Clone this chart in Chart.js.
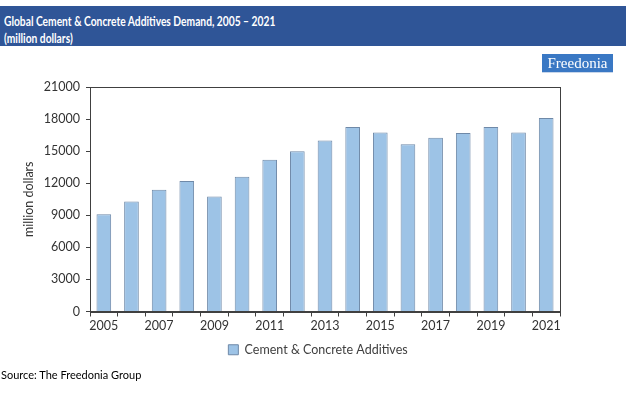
<!DOCTYPE html>
<html><head><meta charset="utf-8">
<script src="https://cdn.jsdelivr.net/npm/chart.js@4"></script>
<style>
html,body{margin:0;padding:0;background:#fff;width:626px;height:398px;overflow:hidden;font-family:Lato,"Noto Sans",sans-serif;}
#hdr{position:absolute;left:0;top:6px;width:626px;height:40px;background:#2F5597;}
#t1,#t2{position:absolute;left:4px;color:#fff;font-weight:bold;font-size:12.5px;white-space:nowrap;transform:scaleX(0.82);transform-origin:0 50%;}
#t1{top:8px;} #t2{top:25px;}
#logo{position:absolute;left:542px;top:54px;width:71px;height:18px;background:#3A78C4;color:#fff;font-family:"Liberation Serif","DejaVu Serif",serif;font-size:15px;line-height:18px;text-align:center;box-shadow:0 1px 0 #c8d6ea;}
#src{position:absolute;left:1px;top:368px;font-size:11px;color:#000;}
#wrap{position:absolute;left:0;top:0;width:626px;height:398px;}
</style></head><body>
<div id="wrap"><canvas id="c" width="626" height="398"></canvas></div>
<div id="hdr"><div id="t1">Global Cement &amp; Concrete Additives Demand, 2005 – 2021</div><div id="t2">(million dollars)</div></div>
<div id="logo">Freedonia</div>
<div id="src">Source: The Freedonia Group</div>
<script>
const years = ['2005','2006','2007','2008','2009','2010','2011','2012','2013','2014','2015','2016','2017','2018','2019','2020','2021'];
const additives = [9100,10300,11400,12200,10750,12600,14200,15000,16000,17250,16750,15650,16250,16700,17250,16750,18100];
const yTicks = [0,3000,6000,9000,12000,15000,18000,21000];
const seriesName = 'Cement & Concrete Additives';
const yTitle = 'million dollars';

const frame = {id:'frame', afterDatasetsDraw(ch){const a=ch.chartArea,c=ch.ctx;c.save();c.strokeStyle='#404040';c.lineWidth=1;c.strokeRect(Math.round(a.left)+0.5,Math.round(a.top)+0.5,Math.round(a.right-a.left),Math.round(a.bottom-a.top));c.restore();}};

new Chart(document.getElementById('c'), {
  type:'bar',
  data:{labels:years, datasets:[{label:seriesName, data:additives, backgroundColor:'#9DC3E6', borderColor:'#6F89A8', borderWidth:1, categoryPercentage:1, barPercentage:0.53, yAxisID:'y'}]},
  options:{
    responsive:false, animation:false,
    layout:{padding:{left:10,right:0,top:87,bottom:32}},
    plugins:{legend:{position:'bottom', labels:{boxWidth:10,boxHeight:10,color:'#404040',font:{family:'Lato',size:12.5},padding:8}}, tooltip:{enabled:false}},
    scales:{
      x:{grid:{offset:true,drawOnChartArea:false,drawTicks:true,tickLength:5,color:'#404040'}, border:{color:'#404040'},
         ticks:{autoSkip:false,maxRotation:0,color:'#333',font:{family:'Lato',size:12.5},padding:2,callback:(v,i)=> i%2===0?years[i]:''}},
      y:{min:0,max:21000,afterBuildTicks:s=>{s.ticks=yTicks.map(v=>({value:v}));}, afterFit:s=>{s.width=80;},
         grid:{drawOnChartArea:false,drawTicks:true,tickLength:4,color:'#404040'}, border:{color:'#404040'},
         ticks:{color:'#333',font:{family:'Lato',size:12.5},padding:6,callback:v=>String(v)},
         title:{display:true,text:yTitle,color:'#333',font:{family:'Lato',size:12.5},padding:{top:11,bottom:0}}},
      yr:{position:'right',display:true,min:0,max:1,afterFit:s=>{s.width=66;},grid:{display:false},border:{display:false},ticks:{display:false}}
    }
  },
  plugins:[frame]
});
</script></body></html>
